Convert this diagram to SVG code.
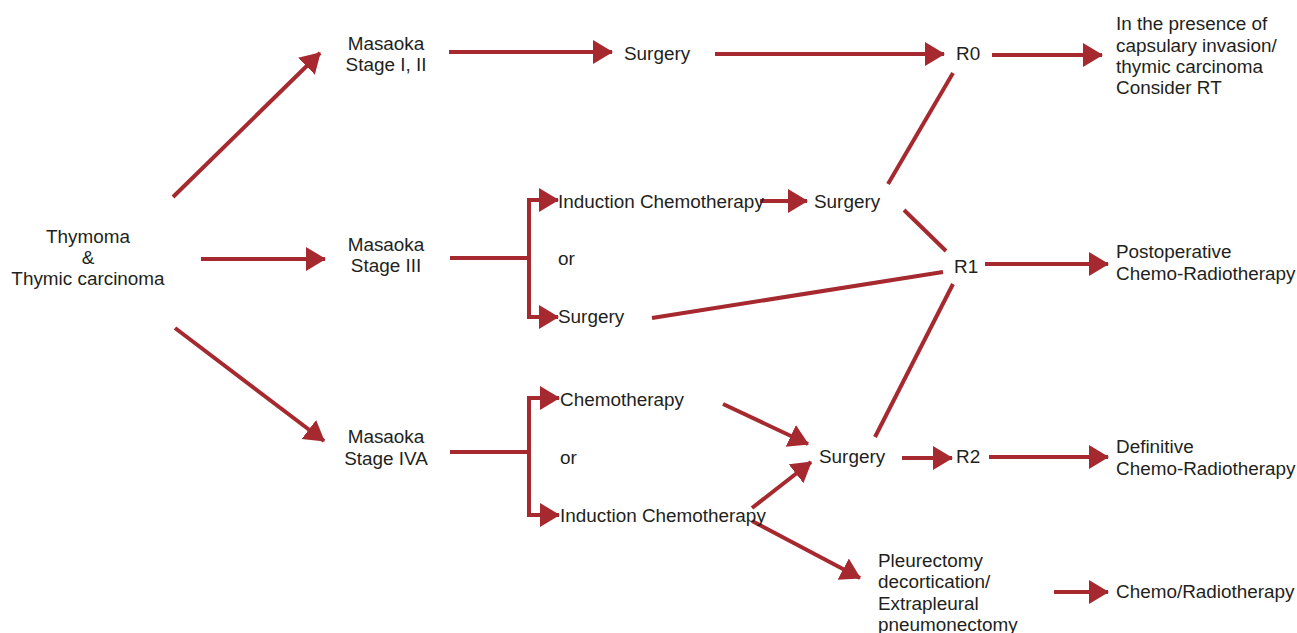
<svg xmlns="http://www.w3.org/2000/svg" width="1297" height="633" viewBox="0 0 1297 633">
<style>
text{font-family:"Liberation Sans",Arial,Helvetica,sans-serif;font-size:18.9px;fill:#231f20}
.c{text-anchor:middle}
.ln{stroke:#a5292e;stroke-width:4;fill:none}
.ar{marker-end:url(#ah)}
</style>
<defs>
<marker id="ah" markerUnits="userSpaceOnUse" markerWidth="22" markerHeight="26" refX="19" refY="12" orient="auto" viewBox="0 0 22 26">
<path d="M0,0 L20,12 L0,24 z" fill="#a5292e"/>
</marker>
</defs>
<rect width="1297" height="633" fill="#fff"/>
<g id="connectors">
<line class="ln ar" x1="173" y1="197" x2="320" y2="53"/>
<line class="ln ar" x1="201" y1="259" x2="325" y2="259"/>
<line class="ln ar" x1="175" y1="328" x2="324" y2="441"/>
<line class="ln ar" x1="449" y1="52" x2="612" y2="52"/>
<line class="ln ar" x1="715" y1="54" x2="944" y2="54"/>
<line class="ln ar" x1="992" y1="55" x2="1102" y2="55"/>
<polyline class="ln" points="450,258 529,258"/>
<polyline class="ln ar" points="529,258 529,200 558,200"/>
<polyline class="ln ar" points="529,258 529,317 558,317"/>
<line class="ln ar" x1="760" y1="201" x2="807" y2="201"/>
<line class="ln" x1="888" y1="184" x2="953" y2="73"/>
<line class="ln" x1="904" y1="210" x2="946" y2="251"/>
<line class="ln" x1="652" y1="318" x2="943" y2="272"/>
<line class="ln" x1="875" y1="437" x2="953" y2="284"/>
<line class="ln ar" x1="985" y1="264" x2="1108" y2="264"/>
<polyline class="ln" points="450,452 529,452"/>
<polyline class="ln ar" points="529,452 529,398 559,398"/>
<polyline class="ln ar" points="529,452 529,515 559,515"/>
<line class="ln ar" x1="723" y1="404" x2="808" y2="444"/>
<line class="ln ar" x1="752" y1="508" x2="811" y2="462"/>
<line class="ln ar" x1="752" y1="521" x2="860" y2="578"/>
<line class="ln ar" x1="902" y1="458" x2="952" y2="458"/>
<line class="ln ar" x1="989" y1="457" x2="1108" y2="457"/>
<line class="ln ar" x1="1054" y1="592" x2="1108" y2="592"/>
</g>
<g id="thymoma"><text class="c" x="88" y="243">Thymoma</text><text class="c" x="88" y="264">&amp;</text><text class="c" x="88" y="285">Thymic carcinoma</text></g>
<g id="stage12"><text class="c" x="386" y="50">Masaoka</text><text class="c" x="386" y="71">Stage I, II</text></g>
<g id="stage3"><text class="c" x="386" y="251">Masaoka</text><text class="c" x="386" y="272">Stage III</text></g>
<g id="stage4a"><text class="c" x="386" y="443">Masaoka</text><text class="c" x="386" y="465">Stage IVA</text></g>
<g id="surgery1"><text x="624" y="60">Surgery</text></g>
<g id="r0"><text x="956" y="60">R0</text></g>
<g id="consider-rt"><text x="1116" y="30">In the presence of</text><text x="1116" y="52">capsulary invasion/</text><text x="1116" y="73">thymic carcinoma</text><text x="1116" y="94">Consider RT</text></g>
<g id="induction1"><text x="558" y="208">Induction Chemotherapy</text></g>
<g id="surgery2"><text x="814" y="208">Surgery</text></g>
<g id="or1"><text x="558" y="265">or</text></g>
<g id="surgery3"><text x="558" y="323">Surgery</text></g>
<g id="r1"><text x="954" y="273">R1</text></g>
<g id="postop"><text x="1116" y="258">Postoperative</text><text x="1116" y="280">Chemo-Radiotherapy</text></g>
<g id="chemo"><text x="560" y="406">Chemotherapy</text></g>
<g id="or2"><text x="560" y="464">or</text></g>
<g id="induction2"><text x="560" y="522">Induction Chemotherapy</text></g>
<g id="surgery4"><text x="819" y="463">Surgery</text></g>
<g id="r2"><text x="956" y="463">R2</text></g>
<g id="definitive"><text x="1116" y="453">Definitive</text><text x="1116" y="475">Chemo-Radiotherapy</text></g>
<g id="pleurectomy"><text x="878" y="567">Pleurectomy</text><text x="878" y="588">decortication/</text><text x="878" y="610">Extrapleural</text><text x="878" y="631">pneumonectomy</text></g>
<g id="chemorad"><text x="1116" y="598">Chemo/Radiotherapy</text></g>
</svg>
